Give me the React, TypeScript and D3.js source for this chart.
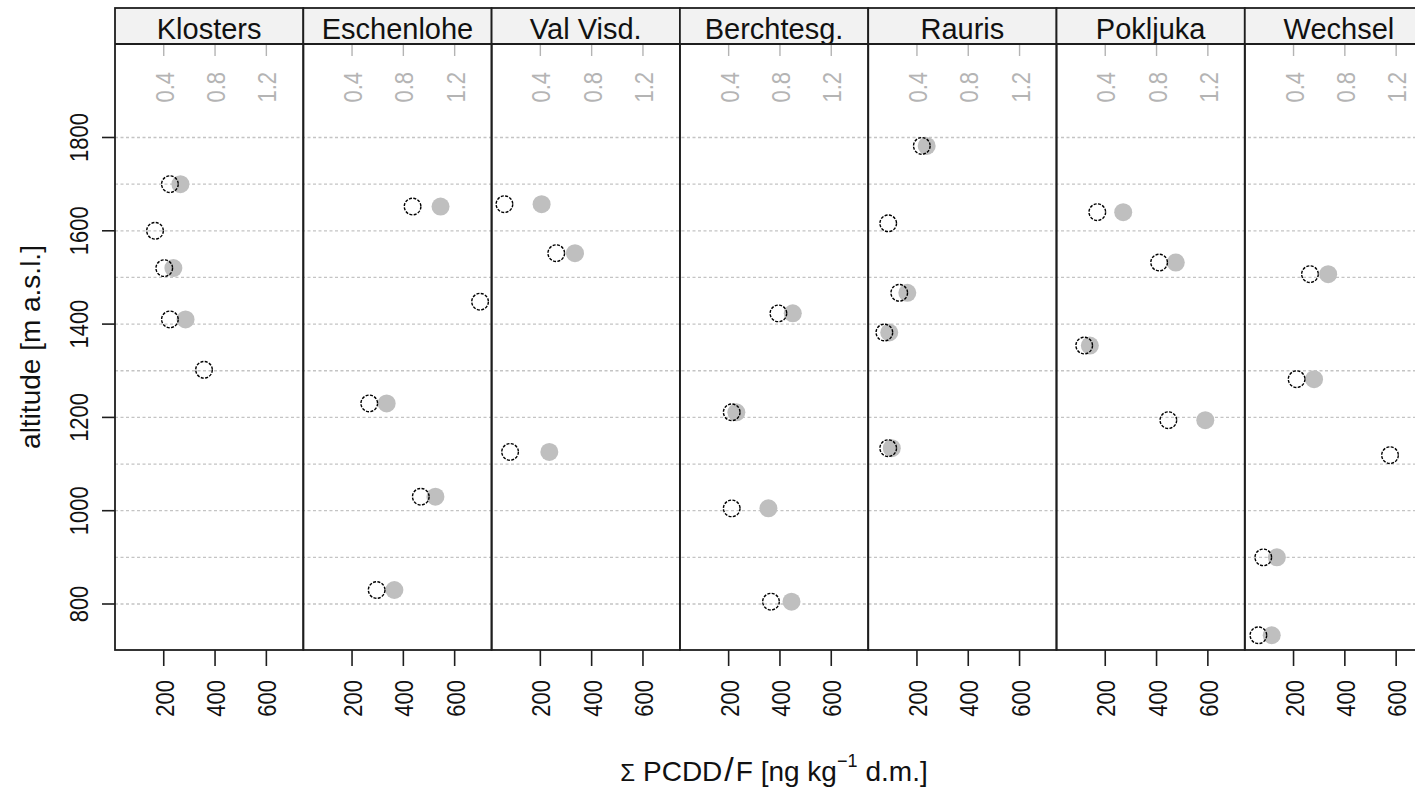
import React from 'react';
import * as d3 from 'd3';

// sites, one panel each
const sites = ['Klosters', 'Eschenlohe', 'Val Visd.', 'Berchtesg.', 'Rauris', 'Pokljuka', 'Wechsel'];

// altitude [m a.s.l.] of each sample, per site
const altitude = [
  [1700, 1600, 1520, 1410, 1302],
  [1652, 1448, 1230, 1030, 830],
  [1657, 1552, 1126],
  [1423, 1211, 1005, 805],
  [1782, 1616, 1467, 1382, 1134],
  [1640, 1532, 1354, 1194],
  [1507, 1282, 1119, 900, 733],
];

// sum PCDD/F [ng/kg d.m.] (open circles, bottom axis)
const pcdd = [
  [224, 166, 202, 224, 357],
  [436, 699, 267, 468, 296],
  [60, 262, 82],
  [394, 212, 212, 365],
  [219, 88, 131, 73, 88],
  [169, 410, 118, 446],
  [264, 212, 576, 82, 63],
];

// grey dots, top axis (null = not measured)
const teq = [
  [0.53, null, 0.475, 0.57, null],
  [1.09, null, 0.67, 1.05, 0.73],
  [0.41, 0.67, 0.47],
  [0.9, 0.46, 0.71, 0.89],
  [0.476, null, 0.325, 0.184, 0.204],
  [0.54, 0.95, 0.28, 1.18],
  [0.67, 0.56, null, 0.27, 0.23],
];

const bottomTicks = [200, 400, 600];
const topTicks = [0.4, 0.8, 1.2];
const yTicks = [800, 1000, 1200, 1400, 1600, 1800];
const gridLevels = [800, 900, 1000, 1100, 1200, 1300, 1400, 1500, 1600, 1700, 1800];

const W = 1415;
const H = 792;
const left = 115;
const panelW = 188.3;
const top = 8;
const stripBottom = 44;
const bottom = 650;
const right = left + panelW * sites.length;

const font = '"Liberation Sans", Arial, sans-serif';
const frame = '#1e1e1e';
const grey = '#bfbfbf';
const axisGrey = '#b4b4b4';

export default function App() {
  const x = d3.scaleLinear().domain([10, 744]).range([0, panelW]);
  const xTop = d3.scaleLinear().domain([0.02, 1.488]).range([0, panelW]);
  const y = d3.scaleLinear().domain([701.4, 2000.4]).range([bottom, stripBottom]);

  return (
    <svg
      width={W}
      height={H}
      style={{ position: 'absolute', left: 0, top: 0, background: '#fff' }}
      fontFamily={font}
    >
      {/* grid */}
      {gridLevels.map((g) => (
        <line
          key={g}
          x1={left}
          x2={right}
          y1={y(g)}
          y2={y(g)}
          stroke="#c4c4c4"
          strokeWidth={1.3}
          strokeDasharray="3 2.5"
        />
      ))}

      {sites.map((site, i) => {
        const px = left + i * panelW;
        return (
          <g key={site} transform={`translate(${px},0)`}>
            {/* strip */}
            <rect x={0} y={top} width={panelW} height={stripBottom - top} fill="#f2f2f2" />
            <text x={panelW / 2} y={39} textAnchor="middle" fontSize={29} fill="#111">
              {site}
            </text>

            {/* grey points first, open circles on top */}
            {teq[i].map((v, j) =>
              v == null ? null : (
                <circle key={'g' + j} cx={xTop(v)} cy={y(altitude[i][j])} r={9} fill={grey} />
              )
            )}
            {pcdd[i].map((v, j) => (
              <circle
                key={'o' + j}
                cx={x(v)}
                cy={y(altitude[i][j])}
                r={8.3}
                fill="none"
                stroke="#000"
                strokeWidth={1.4}
                strokeDasharray="3 1.4"
              />
            ))}

            {/* top axis (grey) */}
            {topTicks.map((t) => (
              <g key={'t' + t}>
                <line x1={xTop(t)} x2={xTop(t)} y1={stripBottom} y2={56} stroke={axisGrey} strokeWidth={1.4} />
                <text
                  transform={`translate(${xTop(t) + 10},72) rotate(-90) scale(1,1.2)`}
                  textAnchor="end"
                  fontSize={22}
                  fill={axisGrey}
                >
                  {t}
                </text>
              </g>
            ))}

            {/* bottom axis */}
            {bottomTicks.map((t) => (
              <g key={'b' + t}>
                <line x1={x(t)} x2={x(t)} y1={bottom} y2={666} stroke={frame} strokeWidth={1.6} />
                <text
                  transform={`translate(${x(t) + 10},680) rotate(-90) scale(1,1.2)`}
                  textAnchor="end"
                  fontSize={22}
                  fill="#111"
                >
                  {t}
                </text>
              </g>
            ))}

            {/* panel frame */}
            <rect
              x={0}
              y={top}
              width={panelW}
              height={bottom - top}
              fill="none"
              stroke={frame}
              strokeWidth={1.8}
            />
            <line x1={0} x2={panelW} y1={stripBottom} y2={stripBottom} stroke={frame} strokeWidth={1.8} />
          </g>
        );
      })}

      {/* y axis */}
      {yTicks.map((t) => (
        <g key={'y' + t}>
          <line x1={102} x2={left} y1={y(t)} y2={y(t)} stroke={frame} strokeWidth={1.6} />
          <text
            transform={`translate(88,${y(t)}) rotate(-90) scale(1,1.2)`}
            textAnchor="middle"
            fontSize={22}
            fill="#111"
          >
            {t}
          </text>
        </g>
      ))}

      <text
        transform={`translate(40,${(stripBottom + bottom) / 2}) rotate(-90)`}
        textAnchor="middle"
        fontSize={28}
        fill="#111"
      >
        altitude [m a.s.l.]
      </text>

      <text x={(left + right) / 2} y={781} textAnchor="middle" fontSize={28} fill="#111">
        <tspan fontSize={24}>Σ</tspan>
        <tspan> PCDD</tspan>
        <tspan fontSize={34} dx={2}>/</tspan>
        <tspan dx={2}>F [ng kg</tspan>
        <tspan fontSize={18} dy={-14}>−1</tspan>
        <tspan dy={14} dx={8}>d.m.]</tspan>
      </text>
    </svg>
  );
}
